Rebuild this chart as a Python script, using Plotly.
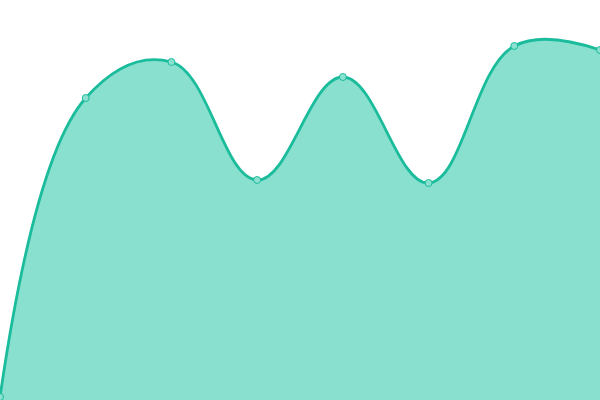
import plotly.graph_objects as go

# one value per evenly spaced point, left to right
positions = [0, 1, 2, 3, 4, 5, 6, 7]
values = [3, 302, 338, 220, 323, 217, 354, 350]

LINE_COLOR = '#1abc9c'
FILL_COLOR = '#89e0cf'

fig = go.Figure()
fig.add_trace(
    go.Scatter(
        x=positions, y=values,
        mode='lines+markers',
        line=dict(color=LINE_COLOR, width=2.8, shape='spline', smoothing=1.15),
        marker=dict(size=7, color='#8ce0cf', line=dict(color=LINE_COLOR, width=1)),
        fill='tozeroy', fillcolor=FILL_COLOR,
        hoverinfo='skip',
    )
)
fig.update_layout(
    width=600, height=400,
    margin=dict(l=0, r=0, t=0, b=0),
    paper_bgcolor='white', plot_bgcolor='white',
    showlegend=False,
)
fig.update_xaxes(visible=False, range=[0, 7])
fig.update_yaxes(visible=False, range=[0, 400])

# full bleed: drop the default page margin, no toolbar
fig.write_html(
    "out.html",
    config={'displayModeBar': False},
    post_script="document.body.style.margin = '0';",
)
